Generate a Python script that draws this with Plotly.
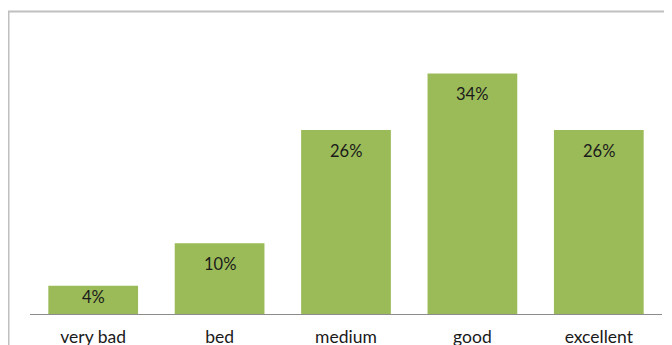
import plotly.graph_objects as go

categories = ["very bad", "bed", "medium", "good", "excellent"]
values = [4, 10, 26, 34, 26]
labels = ["4%", "10%", "26%", "34%", "26%"]

BAR_COLOR = "#9BBB59"
FONT = "Lato, Open Sans, sans-serif"

Y_MAX = 40
# browser body margin is 8px; compensate in margins
ML, MT = 22, 23
PLOT_W, PLOT_H = 632, 283
W, H = 672, 345
MR = W - ML - PLOT_W
MB = H - MT - PLOT_H

fig = go.Figure()
fig.add_trace(go.Bar(
    x=categories, y=values,
    marker=dict(color=BAR_COLOR, line=dict(width=0)),
    hoverinfo="skip",
))

px_per_unit = PLOT_H / Y_MAX
for c, v, t in zip(categories, values, labels):
    h = v * px_per_unit
    shift = -min(21, h / 2 - 3)
    fig.add_annotation(x=c, y=v, text=t, showarrow=False, yshift=shift,
                       yanchor="middle", font=dict(family=FONT, size=16.5, color="#1a1a1a"))

# chart border (Excel chart area frame)
fig.add_shape(type="rect", xref="paper", yref="paper",
              x0=-0.034, x1=1.2, y0=-0.3, y1=1.069,
              line=dict(color="#C0C0C0", width=2), fillcolor="rgba(0,0,0,0)", layer="below")

fig.update_layout(
    width=W, height=H,
    margin=dict(l=ML, r=MR, t=MT, b=MB, autoexpand=False),
    paper_bgcolor="white", plot_bgcolor="white",
    bargap=0.29,
    showlegend=False,
    xaxis=dict(showline=True, linecolor="#8C8C8C", linewidth=1, ticks="outside",
               ticklen=7, tickcolor="rgba(0,0,0,0)", showgrid=False,
               tickfont=dict(family=FONT, size=17.5, color="#1a1a1a"), fixedrange=True),
    yaxis=dict(visible=False, range=[0, Y_MAX], showgrid=False, fixedrange=True),
)

fig.write_html("out.html")
